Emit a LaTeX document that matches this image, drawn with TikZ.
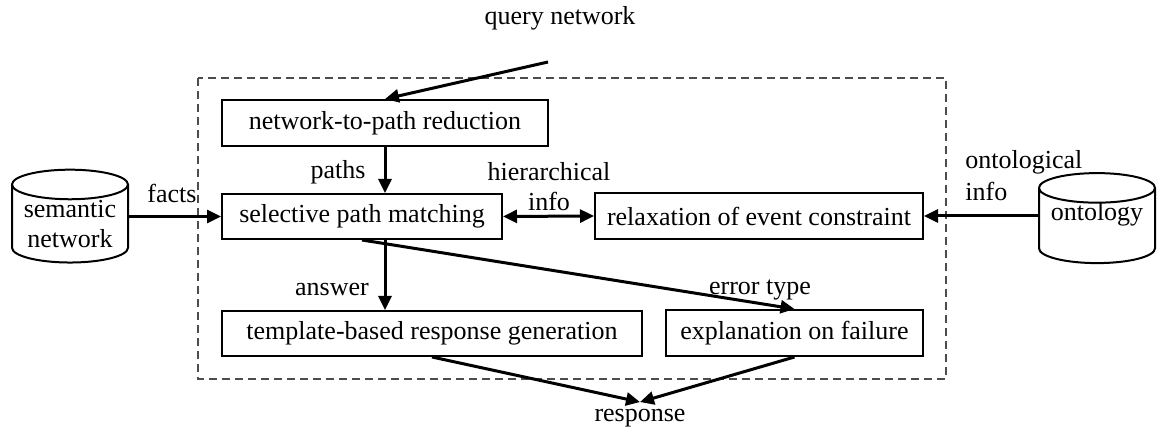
\documentclass[tikz,border=0pt]{standalone}
\usepackage{fontspec}
\setmainfont{Liberation Serif}
\usetikzlibrary{arrows.meta,shapes.geometric}

\tikzset{
  box/.style={draw, line width=1pt, inner sep=0pt},
  store/.style={draw, line width=1pt, shape=cylinder, shape border rotate=90,
    aspect=0.32, minimum width=58pt, minimum height=42.5pt, align=center, inner sep=0pt},
  flow/.style={line width=1.5pt, -{Triangle[length=7pt,width=6.5pt]}},
  frame/.style={draw=black!70, line width=0.6pt, dash pattern=on 4pt off 2.5pt},
  lbl/.style={inner sep=0pt, align=center}
}

\begin{document}
\begin{tikzpicture}[x=0.5pt, y=-0.5pt, every node/.style={font=\fontsize{13}{15}\selectfont}]
      \useasboundingbox (0,0) rectangle (1157,432);
      % outer frame
      \draw[frame] (198,78) rectangle (946,379);
      \draw
        (385,123) node[box, minimum width=163pt, minimum height=23pt] (reduce){network-to-path reduction}
        (362,216.5) node[box, minimum width=140pt, minimum height=22.5pt] (match){selective path matching}
        (759,216) node[box, minimum width=164pt, minimum height=23pt] (relax){relaxation of event constraint}
        (432,333.5) node[box, minimum width=210pt, minimum height=22.5pt] (templ){template-based response generation}
        (794.5,333) node[box, minimum width=128.5pt, minimum height=23pt] (expl){explanation on failure}
        (70,224) node[store] (sem){semantic\\network}
        (1097,226) node[store, minimum height=45pt] (onto){\raisebox{5pt}[7pt][2pt]{ontology}}
        (640,418) node (resp){response}
        (560,18) node[lbl] (query){query network};
      \coordinate (qstart) at (548,62);
      % edge labels
      \node[lbl] (paths) at (338,172) {paths};
      \node[lbl] (hier) at (549,186.5) {hierarchical\\info};
      \node[lbl] (facts) at (172,193) {facts};
      \node[lbl, anchor=west, align=left] (ontinfo) at (965,176) {ontological\\[1pt]info};
      \node[lbl] (answer) at (332,290) {answer};
      \node[lbl] (errtype) at (760,290) {error type};
      \begin{scope}[flow]
        \draw (qstart) to (reduce.north);
        \draw (reduce.south) to (reduce.south |- match.north);
        \draw (sem.east |- match.west) to (match.west);
        \draw[{Triangle[length=7pt,width=6.5pt]}-{Triangle[length=7pt,width=6.5pt]}] (match.east) to (relax.west);
        \draw (onto.west |- relax.east) to (relax.east);
        \draw (reduce.south |- match.south) to (reduce.south |- templ.north);
        \draw (match.south) to (expl.north);
        \draw (templ.south) to (resp.north);
        \draw (expl.south) to (resp.north);
      \end{scope}
    \end{tikzpicture}
\end{document}
